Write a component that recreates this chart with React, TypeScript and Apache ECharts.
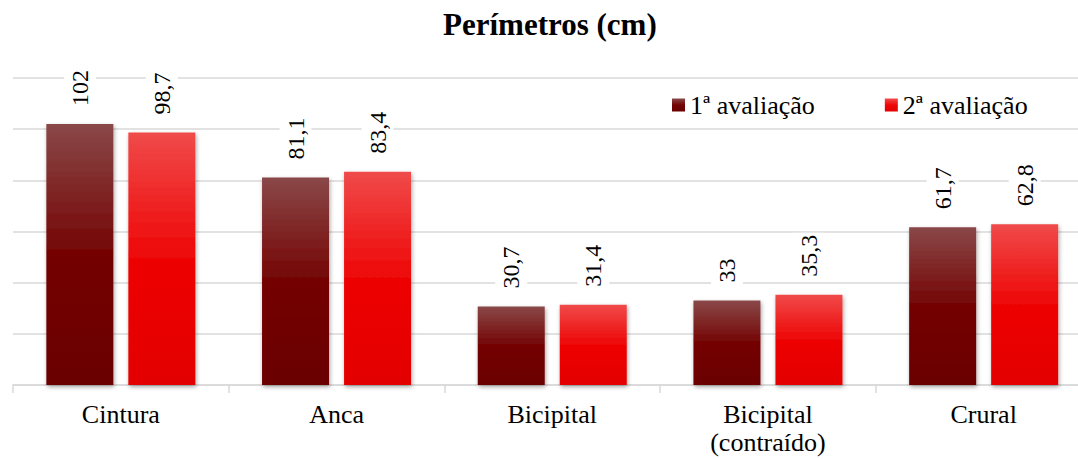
import React, { useEffect, useRef } from "react";
import * as echarts from "echarts";

const categories = ["Cintura", "Anca", "Bicipital", "Bicipital\n(contraído)", "Crural"];
const seriesNames = ["1ª avaliação", "2ª avaliação"];
const avaliacao1 = [102, 81.1, 30.7, 33, 61.7];
const avaliacao2 = [98.7, 83.4, 31.4, 35.3, 62.8];
const yMin = 0;
const yMax = 120;
const yInterval = 20;

const FONT = "Liberation Serif";

export default function App() {
  const ref = useRef<HTMLDivElement>(null);
  useEffect(() => {
    document.body.style.margin = "0";
    if (!ref.current) return;
    const chart = echarts.init(ref.current, undefined, { renderer: "svg" });
    const grad = (stops: [number, string][]) =>
      new echarts.graphic.LinearGradient(
        0, 0, 0, 1,
        stops.map(([offset, color]) => ({ offset, color }))
      );
    const label = {
      show: true,
      position: "top" as const,
      rotate: 90,
      align: "left" as const,
      verticalAlign: "middle" as const,
      distance: 16,
      fontFamily: FONT,
      fontSize: 24,
      color: "#000",
      backgroundColor: "#fff",
      padding: [4, 2],
      formatter: (p: any) => String(p.value).replace(".", ","),
    };
    const shadow = {
      shadowBlur: 4,
      shadowColor: "rgba(0,0,0,0.35)",
      shadowOffsetX: 1,
      shadowOffsetY: 2,
    };
    chart.setOption({
      animation: false,
      textStyle: { fontFamily: FONT },
      title: {
        text: "Perímetros (cm)",
        left: 438,
        top: 4,
        textStyle: { fontFamily: FONT, fontSize: 31, fontWeight: "bold", color: "#000" },
      },
      legend: {
        left: 667,
        top: 87,
        icon: "rect",
        itemWidth: 13,
        itemHeight: 13,
        itemGap: 70,
        textStyle: { fontFamily: FONT, fontSize: 26, color: "#000" },
        data: seriesNames,
      },
      grid: {
        left: 13,
        top: 78,
        bottom: 74,
        width: 1078.5,
        containLabel: false,
        outerBoundsMode: "none",
      },
      xAxis: {
        type: "category",
        data: categories,
        boundaryGap: true,
        axisLine: { lineStyle: { color: "#D9D9D9", width: 1.5 } },
        axisTick: { show: true, length: 8, lineStyle: { color: "#D9D9D9", width: 1.5 } },
        axisLabel: {
          fontFamily: FONT,
          fontSize: 26,
          color: "#000",
          margin: 15,
          lineHeight: 28,
          interval: 0,
        },
      },
      yAxis: {
        type: "value",
        min: yMin,
        max: yMax,
        interval: yInterval,
        axisLabel: { show: false },
        axisLine: { show: false },
        axisTick: { show: false },
        splitLine: { lineStyle: { color: "#D9D9D9", width: 1.5 } },
      },
      series: [
        {
          name: seriesNames[0],
          type: "bar",
          data: avaliacao1,
          barWidth: 67,
          barGap: "22.4%",
          itemStyle: {
            color: grad([
              [0, "#8A4848"],
              [0.5, "#740404"],
              [1, "#6A0000"],
            ]),
            ...shadow,
          },
          label,
        },
        {
          name: seriesNames[1],
          type: "bar",
          data: avaliacao2,
          barWidth: 67,
          barGap: "22.4%",
          itemStyle: {
            color: grad([
              [0, "#F04A4A"],
              [0.5, "#EE0606"],
              [1, "#E30000"],
            ]),
            ...shadow,
          },
          label,
        },
      ],
    });
    return () => chart.dispose();
  }, []);
  return (
    <div
      ref={ref}
      style={{
        position: "fixed",
        left: 0,
        top: 0,
        width: 1078,
        height: 459,
        overflow: "hidden",
        background: "#fff",
      }}
    />
  );
}
